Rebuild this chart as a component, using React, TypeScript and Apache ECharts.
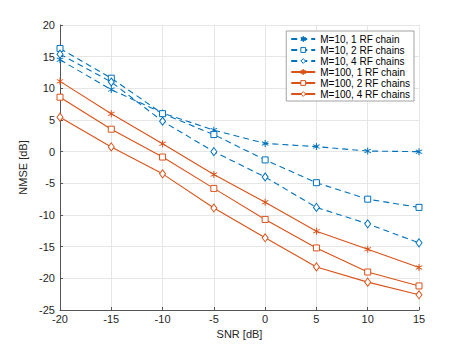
import React, { useEffect, useRef } from "react";
import * as echarts from "echarts";

const snr = [-20, -15, -10, -5, 0, 5, 10, 15];
const m10rf1 = [14.5, 9.8, 6.1, 3.4, 1.3, 0.8, 0.1, 0.0];
const m10rf2 = [16.3, 11.6, 6.0, 2.7, -1.3, -4.9, -7.5, -8.8];
const m10rf4 = [15.4, 11.0, 4.8, 0.0, -4.0, -8.8, -11.4, -14.4];
const m100rf1 = [11.1, 6.0, 1.25, -3.6, -8.0, -12.55, -15.4, -18.3];
const m100rf2 = [8.6, 3.55, -0.85, -5.8, -10.7, -15.2, -19.0, -21.2];
const m100rf4 = [5.45, 0.75, -3.5, -8.9, -13.6, -18.2, -20.6, -22.6];

const names = [
  "M=10, 1 RF chain",
  "M=10, 2 RF chains",
  "M=10, 4 RF chains",
  "M=100, 1 RF chain",
  "M=100, 2 RF chains",
  "M=100, 4 RF chains",
];

const BLUE = "#0072BD";
const ORANGE = "#D95319";
const FONT = "Liberation Sans, Arial, Helvetica, sans-serif";

const STAR =
  "path://M4.4,0 L5.6,0 L5.6,3.55 L8.6,1.8 L9.2,2.85 L6.2,4.6 L6.2,5.4 L9.2,7.15 L8.6,8.2 L5.6,6.45 L5.6,10 L4.4,10 L4.4,6.45 L1.4,8.2 L0.8,7.15 L3.8,5.4 L3.8,4.6 L0.8,2.85 L1.4,1.8 L4.4,3.55 Z";

export default function App() {
  const ref = useRef<HTMLDivElement>(null);
  useEffect(() => {
    const chart = echarts.init(ref.current!, null, { renderer: "svg" });
    const datasets = [m10rf1, m10rf2, m10rf4, m100rf1, m100rf2, m100rf4];
    const mk = (i: number) => {
      const blue = i < 3;
      const color = blue ? BLUE : ORANGE;
      const kind = i % 3;
      const symbol = kind === 0 ? STAR : kind === 1 ? "rect" : "diamond";
      const symbolSize: any = kind === 0 ? 7 : kind === 1 ? 6 : [6, 8];
      return {
        name: names[i],
        type: "line",
        data: snr.map((x, j) => [x, datasets[i][j]]),
        symbol,
        symbolSize,
        showAllSymbol: true,
        lineStyle: {
          color,
          width: 1.1,
          type: blue ? [6, 4] : "solid",
        },
        itemStyle: {
          color: kind === 0 ? color : "#ffffff",
          borderColor: color,
          borderWidth: kind === 0 ? 0 : 1,
        },
        emphasis: { disabled: true },
        z: blue ? 3 : 2,
      };
    };
    chart.setOption({
      animation: false,
      backgroundColor: "#ffffff",
      grid: { left: 60, right: 44, top: 25, bottom: 38, containLabel: false },
      legend: {
        orient: "vertical",
        right: 49,
        top: 31,
        itemWidth: 24,
        itemHeight: 6,
        itemGap: 1,
        padding: [3, 4, 2, 4],
        backgroundColor: "#ffffff",
        borderColor: "#8c8c8c",
        borderWidth: 0.8,
        borderRadius: 0,
        itemStyle: { borderWidth: 1 },
        textStyle: {
          fontFamily: FONT,
          fontSize: 10,
          lineHeight: 10,
          color: "#000",
        },
        data: names,
      },
      xAxis: {
        type: "value",
        min: -20,
        max: 15,
        interval: 5,
        name: "SNR [dB]",
        nameLocation: "middle",
        nameGap: 16,
        nameTextStyle: { fontFamily: FONT, fontSize: 11, color: "#262626" },
        axisLine: { show: true, onZero: false, lineStyle: { color: "#555", width: 1 } },
        axisTick: { show: true, inside: true, length: 3, lineStyle: { color: "#555" } },
        axisLabel: { fontFamily: FONT, fontSize: 11, color: "#262626", margin: 3 },
        splitLine: { show: true, lineStyle: { color: "#e6e6e6", width: 1 } },
      },
      yAxis: {
        type: "value",
        min: -25,
        max: 20,
        interval: 5,
        name: "NMSE [dB]",
        nameLocation: "middle",
        nameGap: 22,
        nameTextStyle: { fontFamily: FONT, fontSize: 11, color: "#262626" },
        axisLine: { show: true, onZero: false, lineStyle: { color: "#555", width: 1 } },
        axisTick: { show: true, inside: true, length: 3, lineStyle: { color: "#555" } },
        axisLabel: { fontFamily: FONT, fontSize: 11, color: "#262626", margin: 5 },
        splitLine: { show: true, lineStyle: { color: "#e6e6e6", width: 1 } },
      },
      series: [0, 1, 2, 3, 4, 5].map(mk),
    });
    return () => chart.dispose();
  }, []);
  return <div ref={ref} style={{ width: 463, height: 348, position: "absolute", left: 0, top: 0 }} />;
}
